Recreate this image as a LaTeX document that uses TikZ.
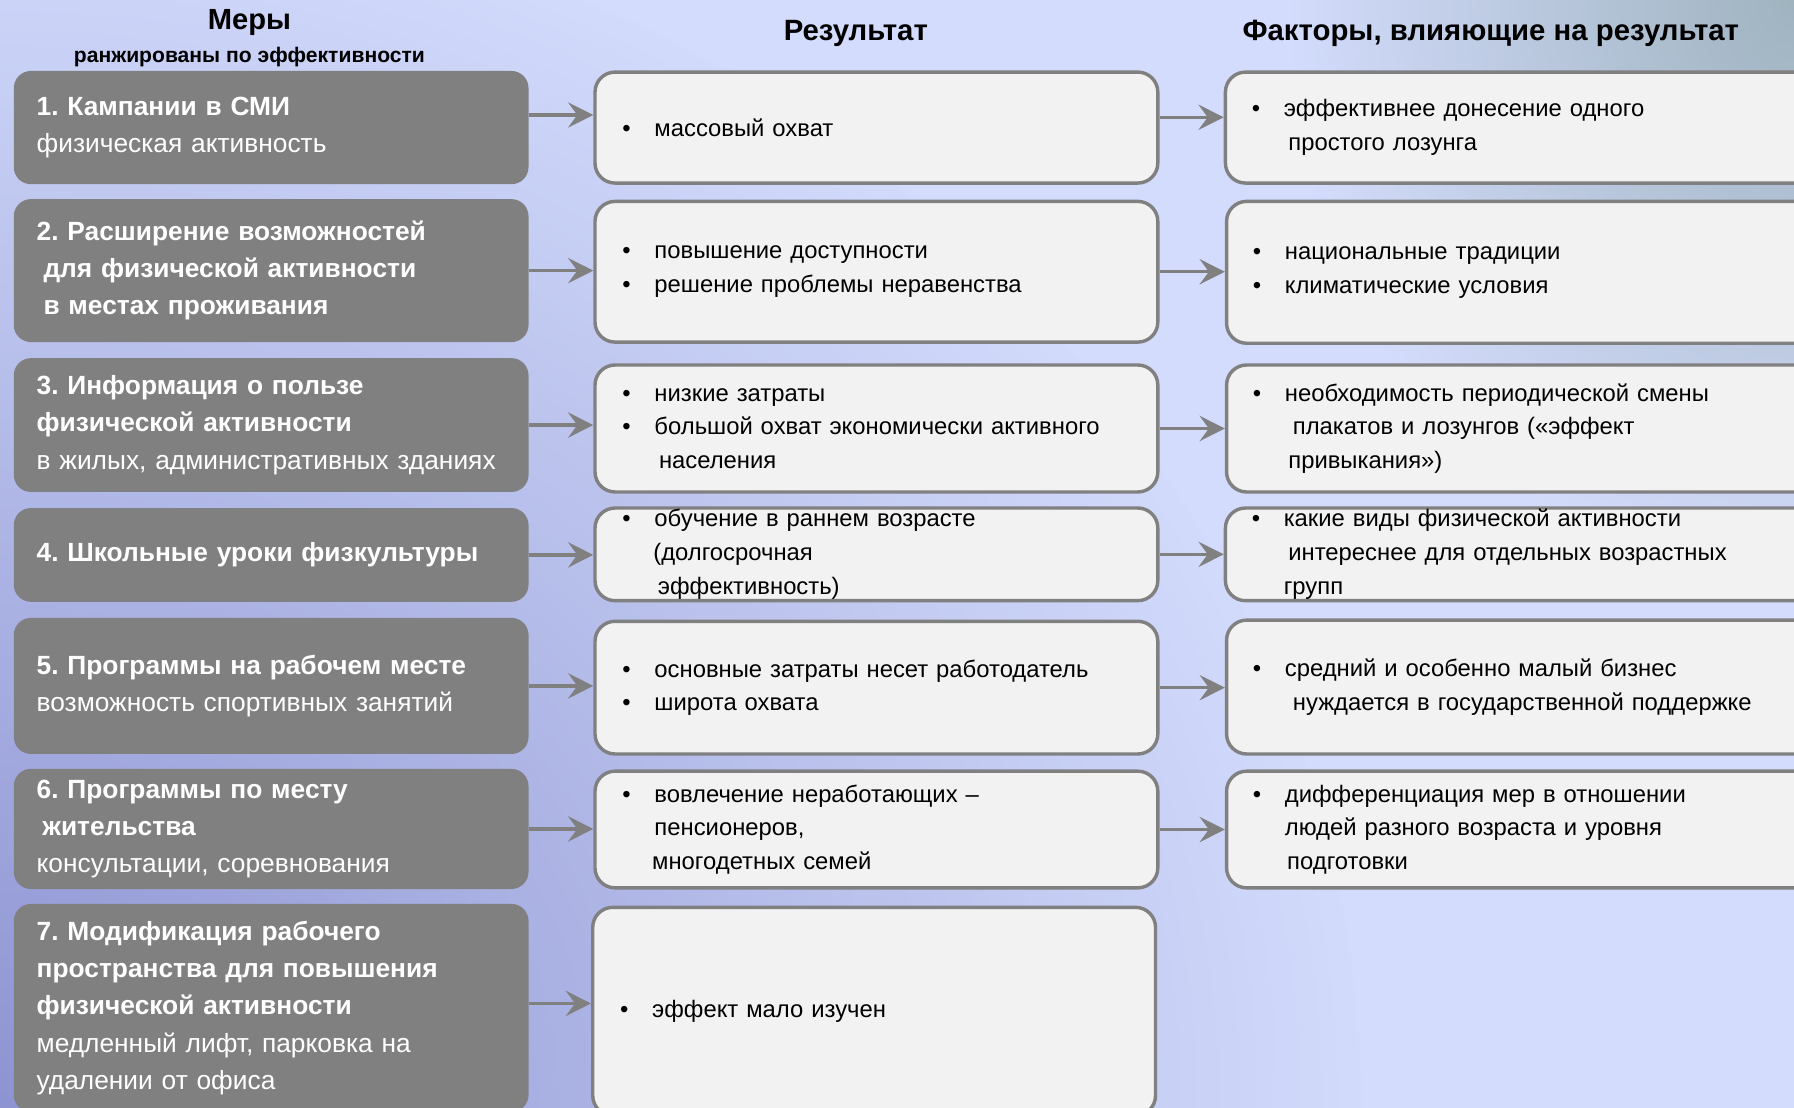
\documentclass[tikz,border=0pt]{standalone}
\usepackage{fontspec}
\setmainfont{Liberation Sans}
\usepackage{xcolor}
\usepackage{tikz}
\usetikzlibrary{calc}
\usetikzlibrary{arrows.meta}
\usetikzlibrary{fadings}

\definecolor{boxgray}{RGB}{128,128,128}
\definecolor{boxfill}{RGB}{242,242,242}
\definecolor{bgbase}{RGB}{211,220,252}
\definecolor{bgdark}{RGB}{142,148,210}
\definecolor{cornergray}{RGB}{160,180,192}

\tikzfading[name=cornerfade, inner color=transparent!0, outer color=transparent!100]

\newcommand{\bul}{\makebox[0.56cm][l]{\textbullet}}
\frenchspacing

\begin{document}
\begin{tikzpicture}[x=0.02cm, y=-0.02cm,
		head/.style={font=\fontsize{14.6}{16}\selectfont\bfseries},
		measure/.style={fill=boxgray, rounded corners=0.3cm, text=white, text width=8.2cm, inner xsep=0.4cm, inner ysep=0pt, align=left, font=\fontsize{13.1}{18.5}\selectfont},
		result/.style={draw=boxgray, line width=1.7pt, fill=boxfill, rounded corners=0.35cm, text width=8.88cm, inner xsep=0.48cm, inner ysep=0pt, align=left, font=\fontsize{11.85}{16.8}\selectfont},
		factor/.style={result, text width=10.2cm, inner xsep=0.46cm},
		flow/.style={draw=boxgray, line width=1.7pt, -{Stealth[length=0.44cm, width=0.44cm, inset=0.16cm]}}]
	\useasboundingbox (0,0) rectangle (1568,968);
	\clip (0,0) rectangle (1568,968);
	% background
	\fill[bgbase] (0,0) rectangle (1568,968);
	\fill[bgdark, path fading=cornerfade] (0,968) ellipse (1200 and 1080);
	\fill[cornergray, path fading=cornerfade] (1568,0) ellipse (440 and 520);

	% column headers
	\node[head, font=\fontsize{14.5}{16}\selectfont\bfseries] (hmeasure) at (218,20) {Меры};
	\node[head, font=\fontsize{10.5}{12}\selectfont\bfseries] (hrank) at (218,50) {ранжированы по эффективности};
	\node[head] (hresult) at (748,29) {Результат};
	\node[head] (hfactor) at (1303,29) {Факторы, влияющие на результат};

	% measures
	\node[measure, minimum height=1.98cm] (l1) at (237,111.5) {\textbf{1. Кампании в СМИ}\\ физическая активность};
	\node[measure, minimum height=2.5cm] (l2) at (237,236.5) {\textbf{2. Расширение возможностей}\\ \hspace*{0.12cm}\textbf{для физической активности}\\ \hspace*{0.12cm}\textbf{в местах проживания}};
	\node[measure, minimum height=2.34cm] (l3) at (237,371.5) {\textbf{3. Информация о пользе}\\ \textbf{физической активности}\\ в жилых, административных зданиях};
	\node[measure, minimum height=1.64cm] (l4) at (237,485) {\textbf{4. Школьные уроки физкультуры}};
	\node[measure, minimum height=2.38cm] (l5) at (237,599.5) {\textbf{5. Программы на рабочем месте}\\ возможность спортивных занятий};
	\node[measure, minimum height=2.1cm] (l6) at (237,724.5) {\textbf{6. Программы по месту}\\ \hspace*{0.1cm}\textbf{жительства}\\ консультации, соревнования};
	\node[measure, minimum height=3.64cm] (l7) at (237,881) {\textbf{7. Модификация рабочего}\\ \textbf{пространства для повышения}\\ \textbf{физической активности}\\ медленный лифт, парковка на\\ удалении от офиса};

	% results
	\node[result, minimum height=1.94cm] (m1) at (766,111.5) {\bul массовый охват};
	\node[result, minimum height=2.46cm] (m2) at (766,237.5) {\bul повышение доступности\\ \bul решение проблемы неравенства};
	\node[result, minimum height=2.22cm] (m3) at (766,374.5) {\bul низкие затраты\\ \bul большой охват экономически активного\\ \hspace*{0.64cm}населения};
	\node[result, minimum height=1.62cm] (m4) at (766,484.5) {\bul обучение в раннем возрасте\\ \hspace*{0.54cm}(долгосрочная\\ \hspace*{0.62cm}эффективность)};
	\node[result, minimum height=2.32cm] (m5) at (766,601) {\bul основные затраты несет работодатель\\ \bul широта охвата};
	\node[result, minimum height=2.04cm] (m6) at (766,725) {\bul вовлечение неработающих –\\ \hspace*{0.56cm}пенсионеров,\\ \hspace*{0.52cm}многодетных семей};
	\node[result, minimum height=3.64cm] (m7) at (764,884) {\bul эффект мало изучен};

	% factors
	\node[factor, minimum height=1.94cm] (r1) at (1349,111.5) {\bul эффективнее донесение одного\\ \hspace*{0.64cm}простого лозунга};
	\node[factor, minimum height=2.48cm] (r2) at (1350,238) {\bul национальные традиции\\ \bul климатические условия};
	\node[factor, minimum height=2.22cm] (r3) at (1350,374.5) {\bul необходимость периодической смены\\ \hspace*{0.7cm}плакатов и лозунгов («эффект\\ \hspace*{0.62cm}привыкания»)};
	\node[factor, minimum height=1.62cm] (r4) at (1349,484.5) {\bul какие виды физической активности\\ \hspace*{0.64cm}интереснее для отдельных возрастных\\ \hspace*{0.56cm}групп};
	\node[factor, minimum height=2.34cm] (r5) at (1350,600.5) {\bul средний и особенно малый бизнес\\ \hspace*{0.7cm}нуждается в государственной поддержке};
	\node[factor, minimum height=2.04cm] (r6) at (1350,725) {\bul дифференциация мер в отношении\\ \hspace*{0.56cm}людей разного возраста и уровня\\ \hspace*{0.6cm}подготовки};

	% arrows
	\draw[flow] ($(l1.east)+(0,-11)$) -- ($(l1.east -| m1.west)+(0,-11)$);
	\draw[flow] ($(m1.east)+(0,-9)$) -- ($(m1.east -| r1.west)+(0,-9)$);
	\foreach \i in {2,...,6} {
		\draw[flow] (l\i.east) -- (l\i.east -| m\i.west);
		\draw[flow] (m\i.east) -- (m\i.east -| r\i.west);
	}
	\draw[flow] ($(l7.east)+(0,-4)$) -- ($(l7.east -| m7.west)+(0,-4)$);
\end{tikzpicture}
\end{document}
